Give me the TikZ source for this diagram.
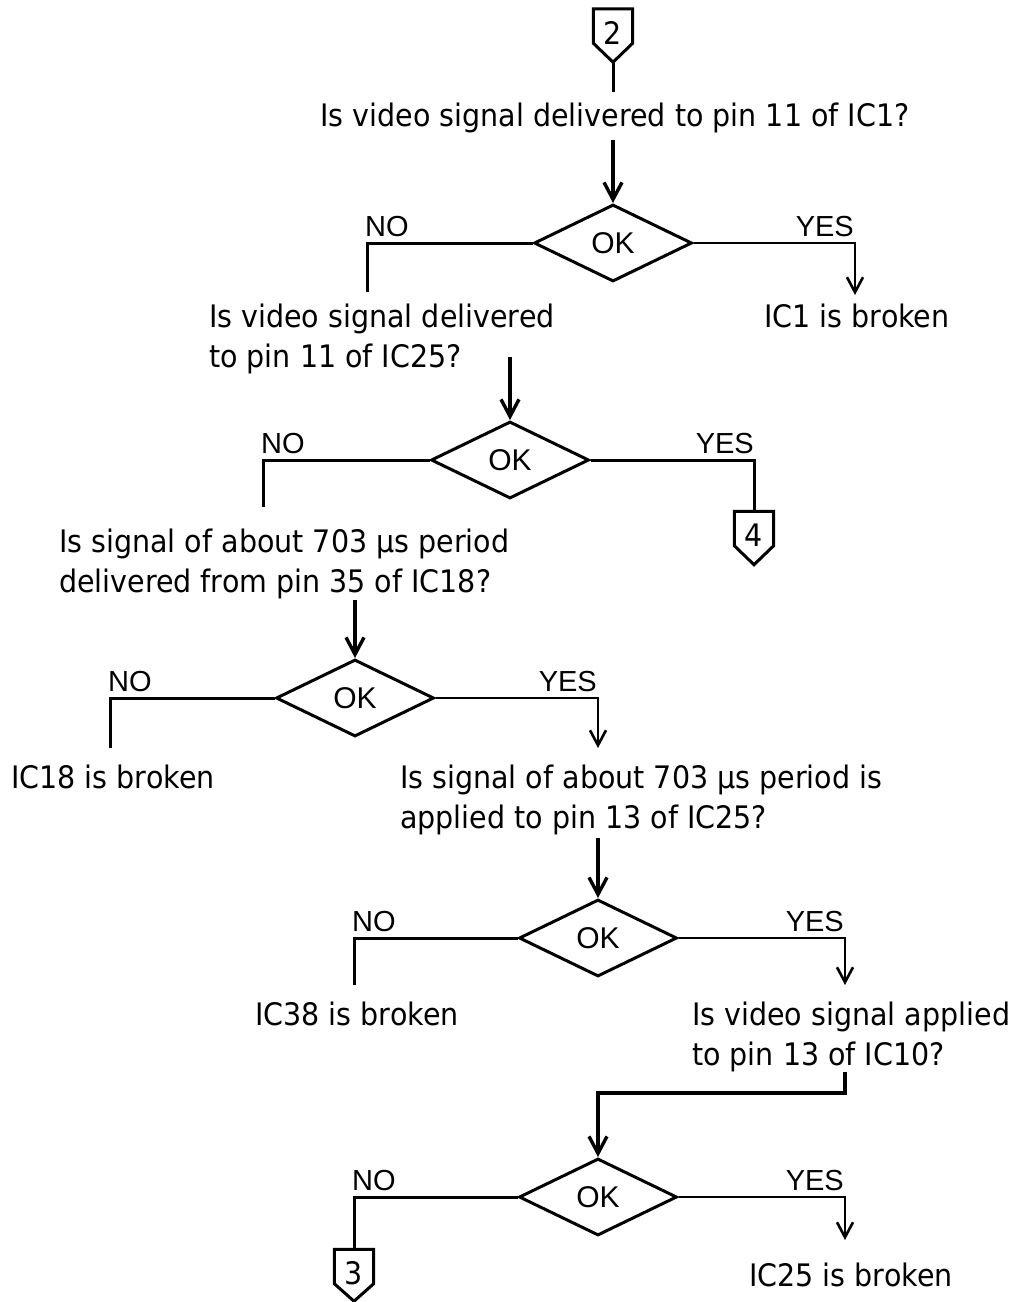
\documentclass[tikz,border=0pt]{standalone}
\usepackage{fontspec}
\setmainfont{DejaVu Sans}[FakeStretch=0.92]
\newfontfamily\arialf{Liberation Sans}
\usetikzlibrary{shapes.geometric,arrows.meta,calc}
\begin{document}
\begin{tikzpicture}[x=1pt,y=-1pt,
  ln/.style={line width=3pt},
  ar/.style={line width=2.8pt,-{Straight Barb[length=15pt,width=16pt,line width=2.6pt]}},
  arin/.style={line width=4pt,-{Straight Barb[length=17pt,width=18pt,line width=3.4pt]}},
  q/.style={font=\fontsize{31}{40}\selectfont, inner sep=0pt, align=left, anchor=north west},
  res/.style={font=\fontsize{31}{40}\selectfont, inner sep=0pt, anchor=base},
  dec/.style={draw, diamond, line width=3pt, minimum width=158pt, minimum height=77pt, inner sep=0pt, font=\arialf\fontsize{30}{34}\selectfont},
  lab/.style={font=\arialf\fontsize{29}{34}\selectfont, inner sep=0pt},
  cbox/.style={minimum width=39pt, minimum height=34pt, inner sep=0pt},
  cnum/.style={font=\fontsize{31}{36}\selectfont, inner sep=0pt},
]
\fill[white] (0,0) rectangle (1019,1302);
\useasboundingbox (0,0) rectangle (1019,1302);

% connector 2
\node[cbox] (c2) at (613,26) {};
\draw[ln, line join=miter] (c2.south west) -- (c2.north west) -- (c2.north east) -- (c2.south east) -- ($(c2.south)+(0,19)$) -- cycle;
\node[cnum] (c2t) at (613,33) {2};
\coordinate (c2p) at ($(c2.south)+(0,19)$);

% question 1
\node[res] (q1) at (615,126) {Is video signal delivered to pin 11 of IC1?};
\draw[ln, shorten >=10pt] (c2p) -- (c2p |- q1.north);

% decision 1
\node[dec] (d1) at (613,243) {OK};
\coordinate (a1s) at (613,140);
\draw[arin] (a1s) -- (d1);
\coordinate (n1e) at (367,292);
\coordinate (y1e) at (855,295);
\draw[ln] (d1.west) -| (n1e);
\draw[ar] (d1.east) -| (y1e);
\node[lab, anchor=base west] (nl1) at (365,236) {NO};
\node[lab, anchor=base east] (yl1) at (854,236) {YES};
\node[res] (r1) at (857,327) {IC1 is broken};

% question 2
\node[q] (q2) at (209,303.4) {Is video signal delivered\\to pin 11 of IC25?};
\node[dec] (d2) at (510,460) {OK};
\coordinate (a2s) at (510,357);
\draw[arin] (a2s) -- (d2);
\coordinate (n2e) at (263,507);
\draw[ln] (d2.west) -| (n2e);
\node[lab, anchor=base west] (nl2) at (261,453) {NO};
\node[lab, anchor=base east] (yl2) at (754,453) {YES};

% connector 4
\node[cbox] (c4) at (754,528.5) {};
\draw[ln, line join=miter] (c4.south west) -- (c4.north west) -- (c4.north east) -- (c4.south east) -- ($(c4.south)+(0,19)$) -- cycle;
\node[cnum] (c4t) at (754,535) {4};
\draw[ln] (d2.east) -| (c4.north);

% question 3
\node[q] (q3) at (59,528.4) {Is signal of about 703 µs period\\delivered from pin 35 of IC18?};
\node[dec] (d3) at (355,698) {OK};
\coordinate (a3s) at (355,600);
\draw[arin] (a3s) -- (d3);
\coordinate (n3e) at (110,748);
\coordinate (y3e) at (598,748);
\draw[ln] (d3.west) -| (n3e);
\draw[ar] (d3.east) -| (y3e);
\node[lab, anchor=base west] (nl3) at (108,691) {NO};
\node[lab, anchor=base east] (yl3) at (597,691) {YES};
\node[res] (r18) at (113,788) {IC18 is broken};

% question 4
\node[q] (q4) at (400,764.4) {Is signal of about 703 µs period is\\applied to pin 13 of IC25?};
\node[dec] (d4) at (598,938) {OK};
\coordinate (a4s) at (598,838);
\draw[arin] (a4s) -- (d4);
\coordinate (n4e) at (354,985);
\coordinate (y4e) at (845,985);
\draw[ln] (d4.west) -| (n4e);
\draw[ar] (d4.east) -| (y4e);
\node[lab, anchor=base west] (nl4) at (352,931) {NO};
\node[lab, anchor=base east] (yl4) at (844,931) {YES};
\node[res] (r38) at (357,1025) {IC38 is broken};

% question 5
\node[q] (q5) at (692,1001.4) {Is video signal applied\\to pin 13 of IC10?};
\node[dec] (d5) at (598,1197) {OK};
\coordinate (a5s) at (845,1072);
\coordinate (a5m) at (845,1093);
\draw[arin] (a5s) -- (a5m) -| (d5.north);

% connector 3
\node[cbox] (c3) at (354,1266.5) {};
\draw[ln, line join=miter] (c3.south west) -- (c3.north west) -- (c3.north east) -- (c3.south east) -- ($(c3.south)+(0,17.5)$) -- cycle;
\node[cnum] (c3t) at (354,1273) {3};
\draw[ln] (d5.west) -| (c3.north);

\coordinate (y5e) at (845,1240);
\draw[ar] (d5.east) -| (y5e);
\node[lab, anchor=base west] (nl5) at (352,1190) {NO};
\node[lab, anchor=base east] (yl5) at (844,1190) {YES};
\node[res] (r25) at (851,1286) {IC25 is broken};
\end{tikzpicture}
\end{document}
